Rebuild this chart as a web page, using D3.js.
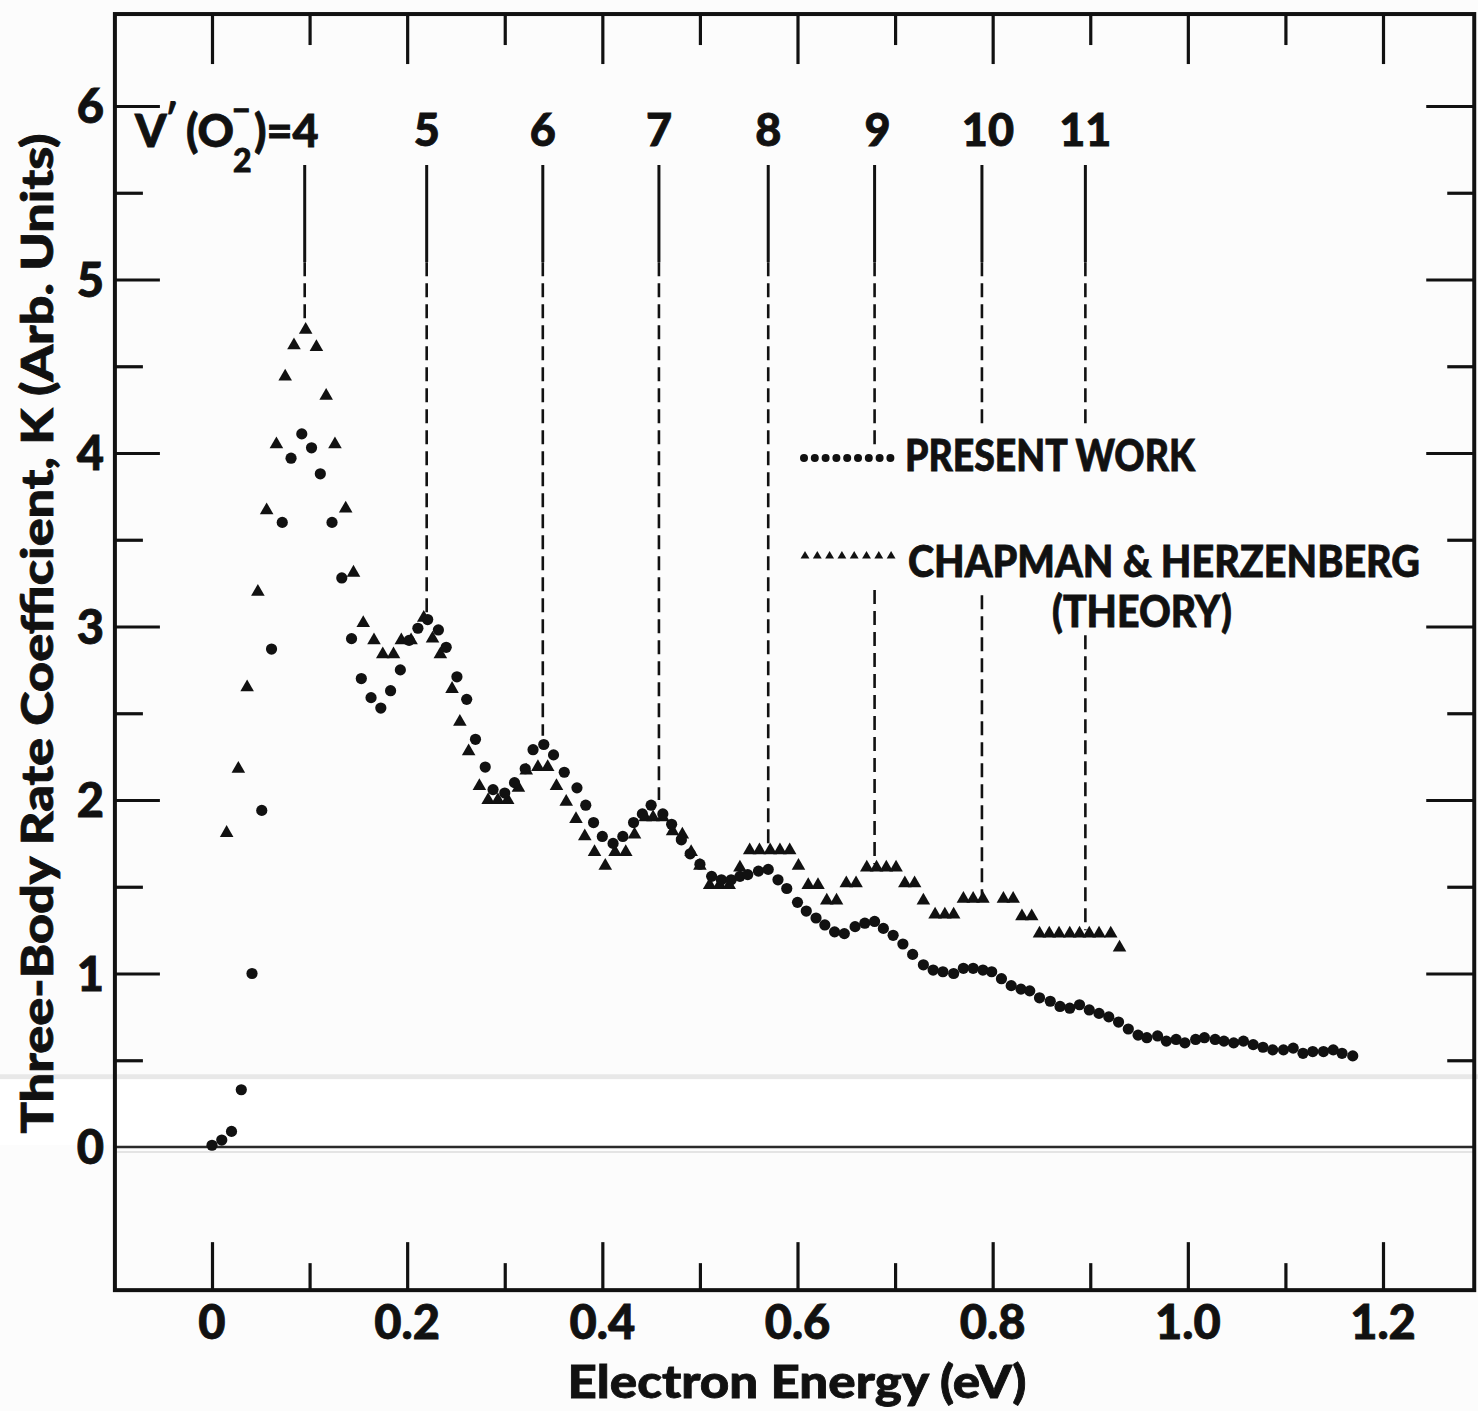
<!DOCTYPE html>
<html><head><meta charset="utf-8">
<script src="https://cdn.jsdelivr.net/npm/d3@7"></script>
<style>
body{margin:0;background:#fcfcfc}
svg{display:block}
text{font-family:Lato,'DejaVu Sans',sans-serif;font-weight:900;fill:#111}
</style>
</head><body>
<svg id="chart" width="1478" height="1411"></svg>
<script>
// ---- data ----
const presentEnergy = [0.000,0.010,0.020,0.030,0.041,0.051,0.061,0.072,0.081,0.092,0.102,0.111,0.123,0.133,0.143,0.153,0.163,0.173,0.183,0.193,0.202,0.211,0.221,0.232,0.240,0.251,0.261,0.270,0.280,0.288,0.300,0.310,0.321,0.329,0.340,0.350,0.361,0.374,0.383,0.391,0.400,0.411,0.421,0.432,0.441,0.450,0.462,0.471,0.481,0.490,0.500,0.512,0.522,0.532,0.541,0.549,0.560,0.570,0.580,0.589,0.600,0.609,0.619,0.628,0.638,0.648,0.659,0.669,0.679,0.688,0.698,0.708,0.718,0.729,0.739,0.749,0.760,0.770,0.780,0.790,0.799,0.809,0.819,0.829,0.838,0.848,0.859,0.869,0.879,0.889,0.899,0.909,0.919,0.929,0.939,0.949,0.958,0.969,0.978,0.988,0.997,1.008,1.017,1.028,1.037,1.047,1.057,1.067,1.077,1.087,1.098,1.108,1.118,1.128,1.139,1.149,1.158,1.169];
const presentK = [0.01,0.04,0.09,0.33,1.00,1.94,2.87,3.60,3.97,4.11,4.03,3.88,3.60,3.28,2.93,2.70,2.59,2.53,2.63,2.75,2.92,2.99,3.04,2.98,2.88,2.71,2.58,2.35,2.19,2.06,2.04,2.10,2.18,2.29,2.32,2.26,2.16,2.07,1.97,1.87,1.79,1.75,1.79,1.87,1.92,1.97,1.92,1.86,1.77,1.69,1.63,1.56,1.54,1.54,1.56,1.57,1.59,1.60,1.54,1.49,1.41,1.36,1.32,1.28,1.24,1.23,1.27,1.29,1.30,1.26,1.22,1.17,1.11,1.05,1.02,1.01,1.00,1.03,1.03,1.02,1.01,0.97,0.93,0.91,0.90,0.86,0.84,0.81,0.80,0.82,0.79,0.77,0.75,0.72,0.68,0.645,0.63,0.64,0.61,0.62,0.60,0.62,0.63,0.62,0.61,0.60,0.61,0.59,0.575,0.56,0.56,0.57,0.54,0.55,0.55,0.56,0.54,0.525];

const theoryEnergy = [0.015,0.027,0.036,0.047,0.056,0.066,0.075,0.084,0.096,0.107,0.117,0.126,0.137,0.145,0.155,0.166,0.175,0.186,0.194,0.204,0.217,0.226,0.234,0.246,0.254,0.263,0.274,0.283,0.293,0.303,0.314,0.322,0.334,0.344,0.353,0.363,0.373,0.382,0.392,0.403,0.413,0.424,0.433,0.444,0.452,0.462,0.472,0.482,0.491,0.500,0.510,0.520,0.530,0.541,0.551,0.561,0.572,0.582,0.592,0.601,0.611,0.621,0.630,0.640,0.650,0.660,0.671,0.681,0.691,0.701,0.710,0.720,0.729,0.741,0.751,0.760,0.770,0.780,0.790,0.811,0.821,0.830,0.840,0.848,0.858,0.868,0.879,0.889,0.899,0.909,0.921,0.930];
const theoryK = [1.81,2.18,2.65,3.20,3.67,4.05,4.44,4.62,4.71,4.61,4.33,4.05,3.68,3.31,3.02,2.92,2.84,2.84,2.92,2.92,3.05,2.93,2.84,2.64,2.45,2.28,2.08,2.00,2.00,2.00,2.07,2.17,2.19,2.19,2.08,1.99,1.89,1.79,1.70,1.62,1.70,1.70,1.80,1.90,1.90,1.90,1.82,1.80,1.70,1.62,1.51,1.51,1.51,1.61,1.71,1.71,1.71,1.71,1.71,1.62,1.51,1.51,1.42,1.42,1.52,1.52,1.61,1.61,1.61,1.61,1.52,1.52,1.42,1.34,1.34,1.34,1.43,1.43,1.43,1.43,1.43,1.33,1.33,1.23,1.23,1.23,1.23,1.23,1.23,1.23,1.23,1.15];

const xTickValues = [0,0.1,0.2,0.3,0.4,0.5,0.6,0.7,0.8,0.9,1.0,1.1,1.2];
const xTickLabels = ["0","0.2","0.4","0.6","0.8","1.0","1.2"];
const yTickValues = [0,0.5,1,1.5,2,2.5,3,3.5,4,4.5,5,5.5,6];
const yTickLabels = ["0","1","2","3","4","5","6"];

// vibrational levels of O2- : label, energy, peak K where the marker line ends
const levelLabels = ["4","5","6","7","8","9","10","11"];
const levelEnergy = [0.095,0.220,0.339,0.458,0.570,0.679,0.789,0.895];
const levelPeakK  = [4.77,3.08,2.37,2.00,1.72,1.63,1.45,1.25];
// legend gap (K range hidden behind legend) for levels 9,10,11
const levelGapTop    = [null,null,null,null,null,4.05,4.16,4.16];
const levelGapBottom = [null,null,null,null,null,3.21,3.18,2.95];

const legendLabels = ["PRESENT WORK","CHAPMAN & HERZENBERG","(THEORY)"];
const xTitle = "Electron Energy (eV)";
const yTitle = "Three-Body Rate Coefficient, K (Arb. Units)";

// ---- scales ----
const x = d3.scaleLinear().domain([0,1.2]).range([212,1383]);
const y = d3.scaleLinear().domain([0,6]).range([1147,106]);
const X0 = x(-0.0995), X1 = x(1.2935), Y0 = y(-0.825), Y1 = y(6.53);

const svg = d3.select("#chart");
const ink = "#111";

// scan artifact band & zero line
svg.append("line").attr("x1",0).attr("x2",1478).attr("y1",y(0.405)).attr("y2",y(0.405))
  .attr("stroke","#e8e8e8").attr("stroke-width",5);
svg.append("rect").attr("x",0).attr("y",y(0.39)).attr("width",1478).attr("height",y(0)-y(0.39)-2).attr("fill","#ffffff");
svg.append("line").attr("x1",X0).attr("x2",X1).attr("y1",y(0)).attr("y2",y(0))
  .attr("stroke","#2a2a2a").attr("stroke-width",2.5);
svg.append("line").attr("x1",X0).attr("x2",X1).attr("y1",y(0)+5).attr("y2",y(0)+5)
  .attr("stroke","#e4e4e4").attr("stroke-width",2);

// ---- axes via d3 ----
const isMajorX = d => Math.abs(Math.round(d*10)%2)===0;
const isMajorY = d => Number.isInteger(d);

function drawTicks(axisGen, transform, sizeFn, values, isMajor){
  const g = svg.append("g").attr("transform",transform)
    .call(axisGen.tickValues(values).tickFormat("").tickSizeOuter(0));
  g.select(".domain").remove();
  g.selectAll(".tick line").attr("stroke",ink).attr("stroke-width",3.2)
    .each(function(d){ const s = sizeFn(isMajor(d)); const l=d3.select(this);
      if(l.attr("x2")!==null && +l.attr("x2")!==0) l.attr("x2", Math.sign(+l.attr("x2"))*s);
      else l.attr("y2", Math.sign(+l.attr("y2"))*s); });
  return g;
}
drawTicks(d3.axisTop(x), `translate(0,${Y0})`, m=>m?48:27, xTickValues, isMajorX);
drawTicks(d3.axisBottom(x), `translate(0,${Y1})`, m=>m?50:31, xTickValues, isMajorX);
drawTicks(d3.axisRight(y), `translate(${X0},0)`, m=>m?45:28, yTickValues.filter(v=>v>0), isMajorY);
drawTicks(d3.axisLeft(y), `translate(${X1},0)`, m=>m?48:27, yTickValues.filter(v=>v>0), isMajorY);

// frame
svg.append("rect").attr("x",X0).attr("y",Y1).attr("width",X1-X0).attr("height",Y0-Y1)
  .attr("fill","none").attr("stroke",ink).attr("stroke-width",4);

// tick labels
svg.append("g").selectAll("text").data(xTickLabels).join("text")
  .attr("x",d=>x(+d)).attr("y",1339).attr("text-anchor","middle")
  .attr("font-size",47).attr("stroke",ink).attr("stroke-width",0.8).text(d=>d);
svg.append("g").selectAll("text").data(yTickLabels).join("text")
  .attr("x",104).attr("y",d=>y(+d)+17).attr("text-anchor","end")
  .attr("font-size",47).attr("stroke",ink).attr("stroke-width",0.8).text(d=>d);

// axis titles
svg.append("text").attr("x",797).attr("y",1398).attr("text-anchor","middle")
  .attr("font-size",46).attr("stroke",ink).attr("stroke-width",0.8)
  .attr("textLength",459).attr("lengthAdjust","spacingAndGlyphs").text(xTitle);
svg.append("text").attr("transform",`translate(53,${y(2.96)}) rotate(-90)`).attr("text-anchor","middle")
  .attr("font-size",44).attr("stroke",ink).attr("stroke-width",0.8)
  .attr("textLength",1000).attr("lengthAdjust","spacingAndGlyphs").text(yTitle);

// ---- level marker lines ----
const lineTop = y(5.66), solidEnd = y(5.10);
const labelShift = [0,0,0,0,0,3,6,0];
levelEnergy.forEach((e,i)=>{
  const lx = x(e);
  svg.append("line").attr("x1",lx).attr("x2",lx).attr("y1",lineTop).attr("y2",solidEnd)
    .attr("stroke",ink).attr("stroke-width",3);
  const segs = levelGapTop[i]===null ? [[solidEnd,y(levelPeakK[i])]]
    : [[solidEnd,y(levelGapTop[i])],[y(levelGapBottom[i]),y(levelPeakK[i])]];
  segs.forEach(s=>svg.append("line").attr("x1",lx).attr("x2",lx).attr("y1",s[0]).attr("y2",s[1])
    .attr("stroke",ink).attr("stroke-width",2.6).attr("stroke-dasharray","14,7"));
  if(i>0){
    svg.append("text").attr("x",lx+labelShift[i]).attr("y",146).attr("text-anchor","middle")
      .attr("font-size",45).attr("stroke",ink).attr("stroke-width",0.8).text(levelLabels[i]);
  }
});
// V'(O2-)=4 label as one text element with positioned tspans
const vl = svg.append("text").attr("font-size",45).attr("stroke",ink).attr("stroke-width",0.8);
vl.append("tspan").attr("x",135).attr("y",147).text("V");
vl.append("tspan").attr("x",165).attr("y",132).attr("font-size",38).attr("font-weight",700).text("′");
vl.append("tspan").attr("x",186).attr("y",147).text("(O");
vl.append("tspan").attr("x",233).attr("y",172).attr("font-size",32).text("2");
vl.append("tspan").attr("x",232).attr("y",121).attr("font-size",32).text("−");
vl.append("tspan").attr("x",254).attr("y",147).text(")=" + levelLabels[0]);

// ---- data marks ----
const tri = d3.symbol(d3.symbolTriangle, 80);
svg.append("g").selectAll("path").data(theoryEnergy.map((e,i)=>[e,theoryK[i]])).join("path")
  .attr("d",tri).attr("transform",d=>`translate(${x(d[0])},${y(d[1])})`).attr("fill",ink);
svg.append("g").selectAll("circle").data(presentEnergy.map((e,i)=>[e,presentK[i]])).join("circle")
  .attr("cx",d=>x(d[0])).attr("cy",d=>y(d[1])).attr("r",5.6).attr("fill",ink);

// ---- legend ----
const lg = svg.append("g");
lg.selectAll("circle").data(d3.range(9)).join("circle")
  .attr("cx",d=>804+d*10.8).attr("cy",458).attr("r",4).attr("fill",ink);
lg.selectAll("path").data(d3.range(8)).join("path")
  .attr("d",d3.symbol(d3.symbolTriangle,34)).attr("transform",d=>`translate(${805+d*12.3},556)`).attr("fill",ink);
const lt = lg.append("g").attr("stroke",ink).attr("stroke-width",0.8);
lt.append("text").attr("x",905).attr("y",471).attr("font-size",43).attr("textLength",290).attr("lengthAdjust","spacingAndGlyphs").text(legendLabels[0]);
lt.append("text").attr("x",908).attr("y",577).attr("font-size",43).attr("textLength",512).attr("lengthAdjust","spacingAndGlyphs").text(legendLabels[1]);
lt.append("text").attr("x",1142).attr("y",627).attr("text-anchor","middle").attr("font-size",43).attr("textLength",180).attr("lengthAdjust","spacingAndGlyphs").text(legendLabels[2]);
</script>
</body></html>
